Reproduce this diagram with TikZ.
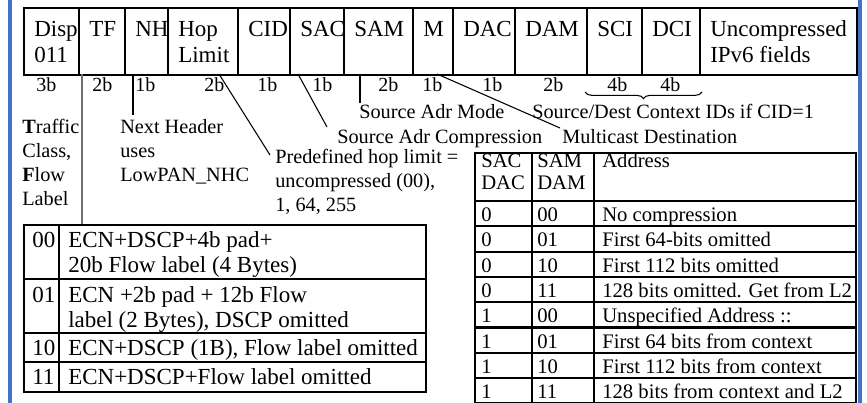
\documentclass[tikz,border=0pt]{standalone}
\usepackage{fontspec}
\setmainfont{Liberation Serif}
\usetikzlibrary{decorations.pathreplacing}
\definecolor{frameblue}{HTML}{4472C4}
\definecolor{tfgray}{HTML}{707070}
\begin{document}
\begin{tikzpicture}[x=0.75pt,y=-0.75pt,
  fld/.style={draw,line width=1.6pt,anchor=north west,inner sep=0pt,minimum height=50.25pt},
  boxtext/.style={anchor=base west,inner sep=0pt,font=\fontsize{17.25}{20}\selectfont},
  bitlbl/.style={anchor=base west,inner sep=0pt,font=\fontsize{15}{18}\selectfont},
  lbl/.style={anchor=base west,inner sep=0pt,font=\fontsize{15.2}{18}\selectfont},
  ltab/.style={anchor=base west,inner sep=0pt,font=\fontsize{17.25}{20}\selectfont},
  rtab/.style={anchor=base west,inner sep=0pt,font=\fontsize{15.5}{18}\selectfont},
  tabframe/.style={draw,line width=1.6pt,anchor=north west,inner sep=0pt},
  tabline/.style={line width=1.6pt},
  conn/.style={line width=0.8pt},
  tfconn/.style={line width=1.3pt,draw=tfgray},
  sideline/.style={line width=2.3pt,draw=frameblue}]
\useasboundingbox (0,0) rectangle (867,403);

% side frame lines
\draw[sideline] (10,0) -- (10,403);
\draw[sideline] (860,0) -- (860,403);

% header fields
\foreach \a/\b/\nm/\t in {23/78/disp/Disp,78/124/tf/TF,124/167/nh/NH,167/237/hop/Hop,
  237/289/cid/CID,289/343/sac/SAC,343/412/sam/SAM,412/452/m/M,452/514/dac/DAC,
  514/586/dam/DAM,586/641/sci/SCI,641/699/dci/DCI,699/856/unc/Uncompressed}{
  \node[fld,minimum width={(\b-\a)*0.75pt}] (\nm) at (\a,7) {};
  \node[boxtext] (\nm-t) at (\a+11,37) {\t};
}
\node[boxtext] (disp-t2) at (34,63) {011};
\node[boxtext] (hop-t2) at (178,63) {Limit};
\node[boxtext] (unc-t2) at (710,63) {IPv6 fields};

% bit widths
\foreach \x/\t [count=\i] in {36/3b,92/2b,135/1b,204/2b,257/1b,312/1b,378/2b,422/1b,482/1b,543/2b,607/4b,660/4b}{
  \node[bitlbl] (bit\i) at (\x,92) {\t};
}

% lower-left table (traffic class / flow label)
\node[tabframe,minimum width={402*0.75pt},minimum height={167*0.75pt}] (tcf) at (23,224) {};
\draw[tabline] (59,224) -- (59,391);
\draw[tabline] (23,279) -- (425,279);
\draw[tabline] (23,333) -- (425,333);
\draw[tabline] (23,362) -- (425,362);
\node[ltab] (c00) at (32,247) {00};
\node[ltab] (c00a) at (68,247) {ECN+DSCP+4b pad+};
\node[ltab] (c00b) at (68,272) {20b Flow label (4 Bytes)};
\node[ltab] (c01) at (32,302) {01};
\node[ltab] (c01a) at (68,302) {ECN +2b pad + 12b Flow};
\node[ltab] (c01b) at (68,327) {label (2 Bytes), DSCP omitted};
\node[ltab] (c10) at (32,355) {10};
\node[ltab] (c10a) at (68,355) {ECN+DSCP (1B), Flow label omitted};
\node[ltab] (c11) at (32,384) {11};
\node[ltab] (c11a) at (68,384) {ECN+DSCP+Flow label omitted};

% right table (address modes)
\node[tabframe,minimum width={381*0.75pt},minimum height={253*0.75pt}] (addr) at (474,152) {};
\draw[tabline] (532,152) -- (532,405);
\draw[tabline] (594,152) -- (594,405);
\draw[tabline] (474,201) -- (855,201);
\node[rtab] (hsac) at (481,167) {SAC};
\node[rtab] (hdac) at (481,189) {DAC};
\node[rtab] (hsam) at (537,167) {SAM};
\node[rtab] (hdam) at (537,189) {DAM};
\node[rtab] (hadr) at (602,167) {Address};
\foreach \c/\m/\t [count=\i] in {0/00/No compression,0/01/First 64-bits omitted,
  0/10/First 112 bits omitted,0/11/128 bits omitted. Get from L2,1/00/Unspecified Address ::,
  1/01/First 64 bits from context,1/10/First 112 bits from context,1/11/128 bits from context and L2}{
  \pgfmathsetmacro{\top}{201+25.3*(\i-1)}
  \pgfmathsetmacro{\bot}{201+25.3*\i}
  \draw[tabline] (474,\bot) -- (855,\bot);
  \node[rtab] (r\i c) at (481,\top+20.5) {\c};
  \node[rtab] (r\i m) at (537,\top+20.5) {\m};
  \node[rtab] (r\i a) at (602,\top+20.5) {\t};
}

% labels
\node[lbl] (tc1) at (22,133) {\textbf{T}raffic};
\node[lbl] (tc2) at (22,157) {Class,};
\node[lbl] (tc3) at (22,181) {\textbf{F}low};
\node[lbl] (tc4) at (22,205) {Label};
\node[lbl] (nh1) at (120,133) {Next Header};
\node[lbl] (nh2) at (120,157) {uses};
\node[lbl] (nh3) at (120,181) {LowPAN\_NHC};
\node[lbl] (hl1) at (275,163) {Predefined hop limit =};
\node[lbl] (hl2) at (275,187) {uncompressed (00),};
\node[lbl] (hl3) at (275,211) {1, 64, 255};
\node[lbl] (samlbl) at (359,118) {Source Adr Mode};
\node[lbl] (ctxlbl) at (532,118) {Source/Dest Context IDs if CID=1};
\node[lbl] (saclbl) at (337,143) {Source Adr Compression};
\node[lbl] (mlbl) at (562,143) {Multicast Destination};

% connector end points
\coordinate (tfA) at (82,74);
\coordinate (nhA) at (133,74);
\coordinate (nhB) at (133,115);
\coordinate (hopA) at (219,74);
\coordinate (hopB) at (270,155);
\coordinate (sacA) at (298,74);
\coordinate (sacB) at (327,127);
\coordinate (samA) at (360,74);
\coordinate (samB) at (360,103);
\coordinate (mA) at (437,74);
\coordinate (mB) at (560,128);
\coordinate (brL) at (585,92);
\coordinate (brR) at (702,92);

\draw[tfconn] (tfA) -- (tfA |- tcf.north);
\draw[conn] (nhA) -- (nhB);
\draw[conn] (hopA) -- (hopB);
\draw[conn] (sacA) -- (sacB);
\draw[conn] (samA) -- (samB);
\draw[conn] (mA) -- (mB);
\draw[conn,decorate,decoration={brace,mirror,amplitude=5pt}] (brL) -- (brR);
\end{tikzpicture}
\end{document}
